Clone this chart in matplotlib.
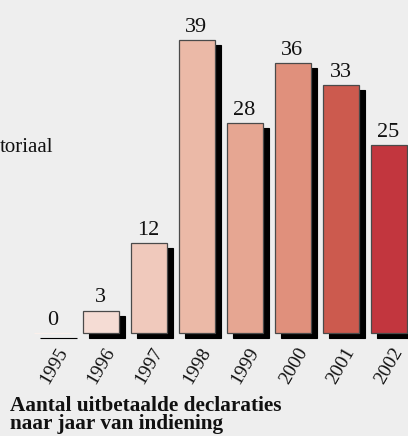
import matplotlib
matplotlib.use("Agg")
import matplotlib.pyplot as plt
from matplotlib.transforms import ScaledTranslation

plt.rcParams["font.family"] = ["Liberation Serif", "DejaVu Serif"]

years = ["1995", "1996", "1997", "1998", "1999", "2000", "2001", "2002"]
counts = [0, 3, 12, 39, 28, 36, 33, 25]
bar_colors = ["#F7E2DA", "#F5DCD4", "#F0C9BC", "#EBB9A7", "#E6A692", "#E0907C",
              "#CC5A4E", "#C2363E"]
side_label = "toriaal"
title = "Aantal uitbetaalde declaraties\nnaar jaar van indiening"

W, H, DPI = 408, 436, 100
bg = "#EEEEEE"
fig = plt.figure(figsize=(W / DPI, H / DPI), dpi=DPI, facecolor=bg)
ax = fig.add_axes([0, 0, 1, 1])
ax.set_facecolor(bg)
ax.set_axis_off()

# pixel layout: bar centres 48 px apart, baseline 333 px from the top, 7.5 px per unit
step, x0, base, scale = 48.0, 52.5, 333.0, 7.5
ax.set_xlim(-x0 / step, (W - x0) / step)
ax.set_ylim(-(H - base) / scale, base / scale)

xs = list(range(len(years)))
width = 36 / step

# drop shadow: same bars shifted 6 px right and 5 px down
shadow = ax.transData + ScaledTranslation(6 / DPI, -5 / DPI, fig.dpi_scale_trans)
ax.bar(xs, counts, width=width, color="black", edgecolor="black",
       linewidth=0.8, transform=shadow, zorder=1)
edge_colors = ["#4a4a4a" if v > 0 else "#FAF0EC" for v in counts]
ax.bar(xs, counts, width=width, color=bar_colors, edgecolor=edge_colors,
       linewidth=0.9, zorder=2)

for x, v in zip(xs, counts):
    ax.annotate(str(v), (x, v), xytext=(0, 2.2), textcoords="offset points",
                ha="center", va="bottom", fontsize=16, color="#111111")

for x, lab in zip(xs, years):
    ax.annotate(lab, (x, 0), xytext=(2.5, -8.5), textcoords="offset points",
                ha="right", va="top", rotation=60, rotation_mode="anchor",
                fontsize=14, color="#111111")

ax.text(0, 1 - 148 / H, side_label, transform=ax.transAxes,
        ha="left", va="center", fontsize=15, color="#111111")

ax.text(10 / W, 1 - 396 / H, title, transform=ax.transAxes, ha="left", va="top",
        fontsize=15.3, fontweight="bold", color="#111111", linespacing=0.88)

fig.savefig("out.png", dpi=DPI, facecolor=bg)
